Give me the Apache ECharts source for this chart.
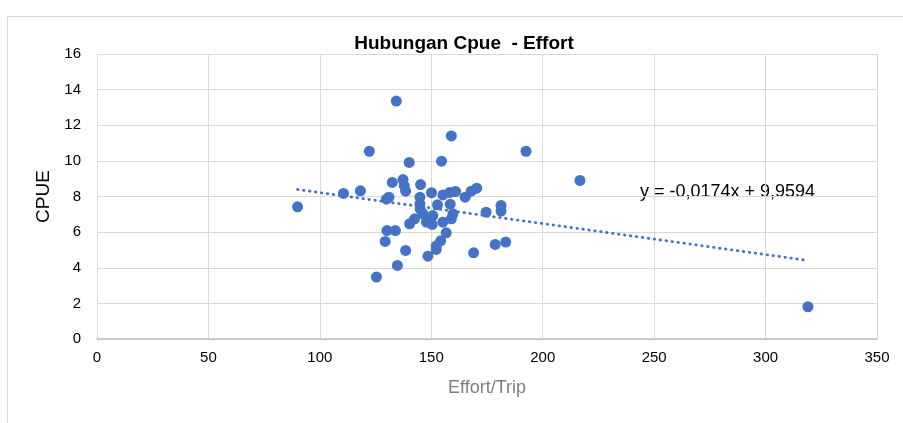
<!DOCTYPE html>
<html>
<head>
<meta charset="utf-8">
<script src="https://cdn.jsdelivr.net/npm/echarts@6/dist/echarts.min.js"></script>
<style>
    body { margin: 0; background: #fff; }
    #main { width: 903px; height: 423px; }
    .frame { position: absolute; left: 7px; top: 16px; width: 900px; height: 420px; border: 1px solid #d9d9d9; }
</style>
</head>
<body>
<div class="frame"></div>
<div id="main" style="position: absolute; left: 0; top: 0;"></div>
<script>
// data
var effort = [
    90, 110.6, 118.2, 122.2, 125.4, 129.3, 129.9, 131, 130.1, 133.9,
    132.5, 134.3, 134.8, 137.3, 137.9, 138.5, 138.5, 140.1, 140.3, 142.5,
    145.2, 144.9, 144.9, 145, 146.3, 147.8, 148.5, 150.1, 150.4, 150.7,
    152.2, 152.2, 152.8, 154.2, 154.6, 155.2, 155.2, 156.7, 158.5, 159,
    159, 158.2, 159.7, 160.9, 165.2, 167.9, 170.4, 169, 174.6, 178.7,
    181.3, 181.3, 183.4, 192.5, 216.7, 319
];
var cpue = [
    7.42, 8.17, 8.32, 10.54, 3.48, 5.48, 7.85, 7.96, 6.09, 6.09,
    8.79, 13.36, 4.13, 8.95, 8.6, 8.3, 4.97, 9.91, 6.47, 6.75,
    8.67, 7.96, 7.59, 7.31, 7.03, 6.56, 4.65, 8.21, 6.43, 6.93,
    5.22, 5.03, 7.53, 5.51, 9.98, 8.09, 6.56, 5.96, 7.57, 6.75,
    11.4, 8.22, 7.03, 8.28, 7.96, 8.3, 8.47, 4.84, 7.12, 5.31,
    7.5, 7.18, 5.44, 10.54, 8.9, 1.81
];
var slope = -0.0174;
var intercept = 9.9594;
var trendFrom = 90;
var trendTo = 319;

var points = effort.map(function (x, i) { return [x, cpue[i]]; });
var trend = [trendFrom, trendTo].map(function (x) { return [x, slope * x + intercept]; });

var narrow = "'Liberation Sans Narrow', 'Arial Narrow', 'Liberation Sans', sans-serif";

var myChart = echarts.init(document.getElementById('main'));
var option = {
    animation: false,
    title: {
        text: 'Hubungan Cpue  - Effort',
        left: 459,
        textAlign: 'center',
        top: 29,
        textStyle: { fontFamily: narrow, fontSize: 19, fontWeight: 'bold', color: '#000' }
    },
    grid: { left: 97, right: 26, top: 54, bottom: 84 },
    xAxis: {
        type: 'value',
        min: 0,
        max: 350,
        interval: 50,
        name: 'Effort/Trip',
        nameLocation: 'middle',
        nameGap: 40,
        nameTextStyle: { fontFamily: narrow, fontSize: 18, color: '#7f7f7f' },
        axisLine: { show: true, lineStyle: { color: '#bfbfbf', width: 1.5 } },
        axisTick: { show: false },
        axisLabel: { fontFamily: narrow, fontSize: 15, color: '#000', margin: 11 },
        splitLine: { show: true, lineStyle: { color: '#d9d9d9', width: 1 } }
    },
    yAxis: {
        type: 'value',
        min: 0,
        max: 16,
        interval: 2,
        name: 'CPUE',
        nameLocation: 'middle',
        nameGap: 44,
        nameTextStyle: { fontFamily: narrow, fontSize: 19, color: '#000' },
        axisLine: { show: false },
        axisTick: { show: false },
        axisLabel: { fontFamily: narrow, fontSize: 15, color: '#000', margin: 16 },
        splitLine: { show: true, lineStyle: { color: '#d9d9d9', width: 1 } }
    },
    series: [
        {
            name: 'CPUE',
            type: 'scatter',
            data: points,
            symbolSize: 11,
            itemStyle: { color: '#4472C4', opacity: 1 },
            z: 3
        },
        {
            name: 'Trend',
            type: 'line',
            data: trend,
            symbol: 'none',
            lineStyle: { color: '#4472C4', width: 2.8, type: [0.5, 5.5], cap: 'round' },
            z: 2
        }
    ],
    graphic: [
        {
            type: 'text',
            left: 640,
            top: 183,
            style: {
                text: 'y = -0,0174x + 9,9594',
                font: '18px ' + narrow,
                fill: '#000'
            }
        }
    ]
};
myChart.setOption(option);
</script>
</body>
</html>
